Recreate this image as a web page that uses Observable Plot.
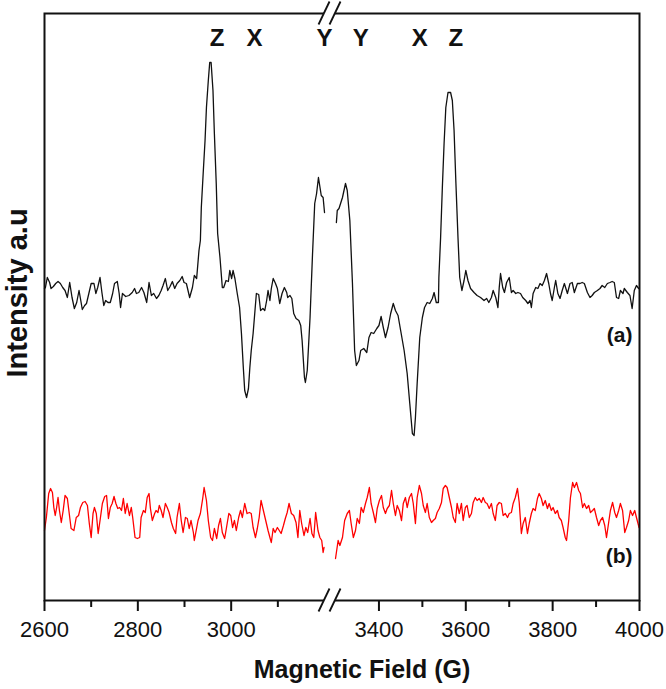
<!DOCTYPE html>
<html>
<head>
<meta charset="utf-8">
<script src="https://cdn.jsdelivr.net/npm/d3@7"></script>
<script src="https://cdn.jsdelivr.net/npm/@observablehq/plot@0.6"></script>
<style>
  html, body { margin: 0; padding: 0; background: white; }
</style>
</head>
<body>
<div id="chart"></div>
<script>
// Magnetic field (G) / intensity (a.u.) pairs, spectrum (a) black, below the break
const specA_low = [[2600,312],[2602,313],[2606,323],[2611,318],[2614,312],[2619,314],[2624,317],[2629,319],[2634,317],[2639,313],[2644,310],[2649,303],[2654,318],[2659,303],[2664,292],[2669,298],[2674,310],[2677,302],[2681,291],[2686,295],[2690,297],[2695,307],[2700,317],[2706,317],[2710,307],[2714,313],[2719,323],[2723,308],[2727,295],[2731,300],[2736,298],[2741,298],[2746,307],[2750,317],[2756,319],[2760,307],[2763,293],[2767,307],[2774,304],[2781,305],[2788,308],[2793,312],[2797,307],[2802,308],[2808,313],[2813,308],[2819,298],[2824,318],[2829,305],[2834,307],[2840,302],[2845,305],[2850,310],[2854,315],[2859,322],[2864,310],[2869,314],[2874,319],[2879,312],[2884,317],[2890,320],[2895,324],[2899,318],[2904,317],[2911,303],[2917,313],[2921,325],[2926,322],[2931,350],[2934,360],[2936,393],[2940,427],[2944,460],[2947,493],[2951,520],[2954,538],[2957,538],[2961,510],[2964,467],[2968,417],[2971,367],[2976,343],[2981,313],[2984,313],[2989,320],[2994,319],[2997,330],[3001,322],[3004,330],[3008,322],[3013,307],[3018,293],[3022,267],[3026,233],[3029,210],[3033,203],[3037,212],[3040,233],[3043,250],[3047,267],[3051,290],[3054,307],[3059,306],[3063,290],[3068,292],[3072,290],[3076,300],[3079,310],[3083,300],[3086,312],[3090,322],[3095,317],[3099,312],[3104,297],[3109,307],[3114,313],[3119,308],[3121,303],[3126,305],[3130,302],[3134,287],[3139,282],[3145,280],[3149,275],[3152,260],[3157,223],[3159,218],[3163,230],[3169,283],[3174,343],[3179,397],[3183,407],[3187,423],[3189,417],[3193,405],[3197,403],[3200,388]];
// spectrum (a), above the break
const specA_high = [[3302,378],[3304,390],[3308,392],[3316,403],[3323,417],[3327,410],[3333,380],[3339,317],[3344,250],[3348,235],[3354,240],[3358,250],[3365,252],[3372,248],[3377,263],[3382,268],[3388,267],[3395,272],[3400,275],[3405,284],[3410,273],[3415,263],[3421,273],[3427,287],[3433,297],[3438,290],[3444,285],[3450,270],[3458,250],[3465,227],[3471,197],[3477,167],[3481,165],[3484,183],[3488,217],[3494,263],[3500,283],[3505,293],[3511,298],[3517,297],[3523,302],[3527,308],[3532,298],[3537,298],[3538,323],[3542,363],[3546,413],[3550,457],[3554,493],[3559,508],[3565,508],[3569,500],[3573,470],[3577,420],[3582,363],[3586,323],[3591,310],[3596,320],[3600,330],[3605,320],[3611,312],[3619,308],[3626,305],[3634,303],[3642,300],[3648,302],[3653,298],[3659,303],[3663,310],[3669,303],[3674,293],[3677,313],[3680,327],[3685,313],[3689,308],[3694,318],[3700,323],[3705,308],[3709,310],[3715,307],[3720,308],[3726,307],[3731,303],[3738,300],[3743,297],[3748,300],[3751,293],[3755,307],[3761,313],[3766,312],[3771,317],[3776,315],[3781,320],[3786,327],[3791,317],[3795,307],[3799,300],[3804,313],[3807,320],[3812,307],[3817,302],[3822,310],[3827,317],[3834,307],[3840,317],[3845,318],[3850,308],[3857,317],[3863,317],[3868,318],[3873,317],[3880,308],[3886,303],[3891,305],[3896,308],[3903,310],[3909,312],[3914,315],[3920,313],[3926,317],[3932,318],[3937,319],[3942,318],[3947,303],[3952,302],[3956,310],[3962,307],[3965,312],[3972,308],[3978,305],[3983,292],[3988,310],[3993,315],[3998,312]];
// spectrum (b) red, below the break
const specB_low = [[2600,70],[2604,83],[2609,107],[2613,112],[2617,108],[2620,93],[2623,85],[2626,93],[2629,103],[2632,90],[2636,78],[2640,90],[2644,105],[2649,102],[2653,87],[2657,72],[2663,70],[2668,83],[2673,85],[2677,93],[2682,98],[2687,99],[2692,95],[2696,77],[2700,63],[2704,87],[2707,93],[2711,87],[2715,67],[2719,80],[2724,97],[2729,104],[2733,105],[2737,82],[2741,93],[2745,97],[2749,104],[2753,97],[2757,92],[2761,93],[2765,90],[2769,102],[2773,87],[2777,97],[2782,85],[2786,93],[2789,83],[2794,63],[2799,62],[2804,63],[2807,83],[2812,90],[2816,88],[2820,103],[2824,107],[2827,92],[2831,80],[2836,87],[2839,90],[2843,88],[2846,95],[2850,90],[2854,83],[2859,97],[2863,93],[2867,88],[2872,78],[2876,72],[2881,67],[2884,83],[2889,97],[2893,80],[2897,68],[2902,83],[2906,82],[2910,72],[2914,80],[2919,68],[2921,60],[2925,70],[2929,80],[2934,87],[2939,102],[2942,113],[2947,100],[2951,80],[2956,63],[2960,60],[2964,72],[2969,62],[2973,75],[2977,82],[2981,68],[2986,62],[2990,73],[2995,87],[2999,85],[3003,73],[3007,80],[3011,70],[3016,83],[3020,90],[3024,83],[3029,97],[3034,87],[3039,88],[3043,87],[3047,73],[3052,63],[3056,72],[3060,83],[3064,100],[3069,90],[3074,80],[3079,70],[3083,63],[3086,58],[3090,72],[3094,68],[3099,73],[3103,70],[3107,67],[3112,75],[3116,82],[3120,88],[3124,97],[3129,87],[3134,85],[3139,78],[3143,63],[3147,90],[3151,77],[3156,65],[3160,73],[3164,68],[3169,82],[3173,67],[3177,63],[3181,88],[3186,70],[3190,63],[3194,60],[3197,48],[3199,53]];
// spectrum (b), above the break
const specB_high = [[3300,42],[3306,60],[3310,55],[3316,63],[3321,80],[3327,87],[3332,90],[3336,77],[3341,63],[3346,70],[3350,82],[3355,77],[3359,93],[3364,88],[3369,97],[3373,103],[3378,113],[3382,97],[3387,88],[3392,78],[3396,92],[3401,100],[3406,105],[3410,93],[3415,87],[3419,92],[3424,95],[3429,110],[3433,97],[3438,85],[3442,95],[3447,90],[3452,80],[3456,97],[3461,103],[3465,93],[3470,103],[3475,107],[3479,97],[3484,77],[3488,103],[3493,115],[3498,107],[3502,95],[3507,88],[3511,97],[3516,83],[3521,78],[3525,80],[3530,82],[3534,88],[3539,92],[3544,98],[3548,112],[3553,115],[3557,113],[3562,103],[3567,93],[3571,83],[3576,78],[3580,97],[3585,87],[3590,97],[3594,80],[3599,93],[3603,95],[3608,83],[3613,87],[3617,98],[3622,103],[3626,100],[3631,102],[3636,98],[3640,103],[3645,98],[3649,97],[3654,92],[3659,97],[3663,87],[3668,80],[3672,95],[3677,98],[3682,97],[3686,85],[3691,87],[3696,83],[3700,87],[3705,88],[3709,97],[3714,103],[3719,112],[3723,98],[3728,67],[3732,77],[3737,83],[3742,67],[3746,77],[3751,87],[3755,92],[3760,90],[3765,102],[3769,107],[3774,102],[3778,95],[3783,100],[3788,92],[3792,97],[3797,90],[3801,93],[3806,87],[3811,90],[3815,83],[3820,80],[3824,73],[3829,63],[3832,60],[3837,80],[3841,103],[3846,118],[3850,113],[3855,118],[3860,110],[3864,107],[3869,93],[3873,97],[3878,92],[3883,95],[3887,88],[3892,90],[3896,92],[3901,83],[3906,75],[3910,80],[3915,83],[3920,75],[3924,63],[3929,78],[3933,90],[3938,98],[3943,88],[3947,83],[3952,90],[3956,97],[3961,90],[3966,68],[3970,73],[3975,80],[3979,90],[3984,85],[3989,90],[3993,83],[3996,78],[3999,73]];

// axis break: field segments shown
const segmentLow = [2600, 3200];
const segmentHigh = [3300, 4000];
const majorTicks = [2600, 2800, 3000, 3400, 3600, 3800, 4000];
const minorTicks = [2700, 2900, 3100, 3500, 3700, 3900];

// peak assignment labels
const peakLabels = ["Z", "X", "Y", "Y", "X", "Z"];
const peakFields = [2970, 3050, 3200, 3358, 3494, 3577];

// series labels and their intensity positions
const seriesLabels = ["(a)", "(b)"];
const seriesLabelIntensity = [265, 44];

const xTitle = "Magnetic Field (G)";
const yTitle = "Intensity a.u";

const W = 666, H = 689;
const mL = 44, mR = 27, mT = 13, mB = 89;
const left = mL, right = W - mR;
// pixel ranges for the two segments (small gap for the break)
const gap = 11;
const lowSpan = (segmentLow[1] - segmentLow[0]);
const highSpan = (segmentHigh[1] - segmentHigh[0]);
const kLow = 0.4667;
const xRange = [left, left + lowSpan * kLow, left + lowSpan * kLow + gap, right];

const FONT = "'Liberation Sans', Arial, Helvetica, sans-serif";

const chart = Plot.plot({
  width: W,
  height: H,
  marginLeft: mL,
  marginRight: mR,
  marginTop: mT,
  marginBottom: mB,
  style: { fontFamily: FONT, background: "white", color: "black" },
  x: { type: "linear", domain: [segmentLow[0], segmentLow[1], segmentHigh[0], segmentHigh[1]], range: xRange, axis: null },
  y: { domain: [0, 587], axis: null },
  marks: [
    Plot.line(specA_low, { x: d => d[0], y: d => d[1], stroke: "#111", strokeWidth: 1.3 }),
    Plot.line(specA_high, { x: d => d[0], y: d => d[1], stroke: "#111", strokeWidth: 1.3 }),
    Plot.line(specB_low, { x: d => d[0], y: d => d[1], stroke: "#ff0000", strokeWidth: 1.3 }),
    Plot.line(specB_high, { x: d => d[0], y: d => d[1], stroke: "#ff0000", strokeWidth: 1.3 }),
    Plot.frame({ stroke: "#111", strokeWidth: 2 }),
    Plot.axisX({ ticks: majorTicks, tickSize: 11, tickPadding: 10, strokeWidth: 2, stroke: "#111",
      tickFormat: d => String(d), fontSize: 22, label: null, fill: "#111" }),
    Plot.axisX({ ticks: minorTicks, tickSize: 7, strokeWidth: 2, stroke: "#111", fill: "none", label: null }),
    Plot.text(peakLabels, { x: (d, i) => peakFields[i], text: d => d, frameAnchor: "top", lineAnchor: "middle", dy: 25,
      fontSize: 24, fontWeight: "bold", fill: "#111" }),
    Plot.text(seriesLabels, { y: (d, i) => seriesLabelIntensity[i], text: d => d, frameAnchor: "right",
      textAnchor: "end", dx: -7, fontSize: 21, fontWeight: "bold", fill: "#111" }),
    Plot.text([xTitle], { text: d => d, frameAnchor: "bottom", lineAnchor: "middle", textAnchor: "middle", dy: 69, dx: 20,
      fontSize: 25, fontWeight: "bold", fill: "#111" }),
    Plot.text([yTitle], { text: d => d, frameAnchor: "left", textAnchor: "middle", lineAnchor: "middle", dx: -27, dy: -14, rotate: -90,
      fontSize: 29, fontWeight: "bold", fill: "#111" })
  ]
});

document.getElementById("chart").appendChild(chart);

// axis-break symbols on top and bottom frame lines
const xs = chart.scale("x");
const ys = chart.scale("y");
const xa = xs.apply(segmentLow[1]);
const xb = xs.apply(segmentHigh[0]);
const yLines = [ys.apply(ys.domain[1]), ys.apply(ys.domain[0])];
const g = d3.select(chart).append("g");
for (const y of yLines) {
  g.append("rect").attr("x", xa).attr("y", y - 2.5).attr("width", xb - xa).attr("height", 5).attr("fill", "white");
  for (const cx of [xa, xb]) {
    g.append("line")
      .attr("x1", cx - 5.5).attr("y1", y + 11.5)
      .attr("x2", cx + 5.5).attr("y2", y - 11.5)
      .attr("stroke", "#111").attr("stroke-width", 1.8);
  }
}
</script>
</body>
</html>
